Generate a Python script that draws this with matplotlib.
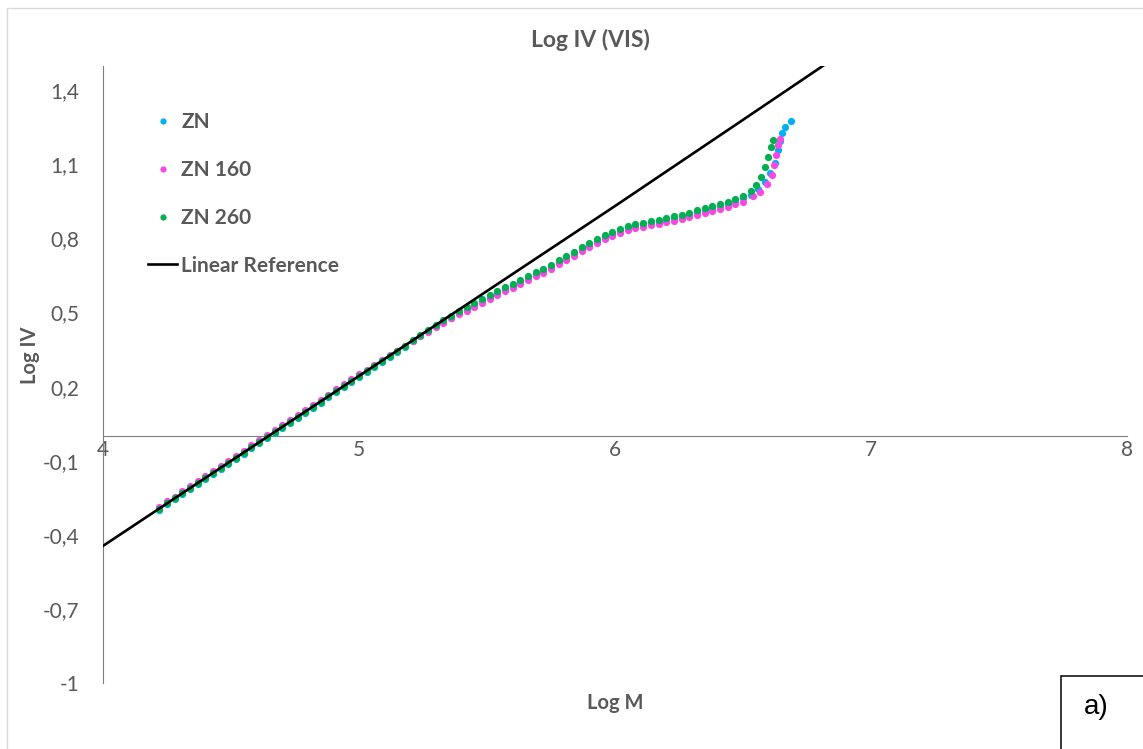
import matplotlib
matplotlib.use("Agg")
import matplotlib.pyplot as plt
from matplotlib.lines import Line2D
from matplotlib.patches import Rectangle

plt.rcParams['font.family'] = ['Lato', 'DejaVu Sans']

# shared Log M positions for the body of the curves
logm = [4.22, 4.25, 4.28, 4.31, 4.34, 4.37, 4.40, 4.43, 4.46, 4.49,
        4.52, 4.55, 4.58, 4.61, 4.64, 4.67, 4.70, 4.73, 4.76, 4.79,
        4.82, 4.85, 4.88, 4.91, 4.94, 4.97, 5.00, 5.03, 5.06, 5.09,
        5.12, 5.15, 5.18, 5.21, 5.24, 5.27, 5.30, 5.33, 5.36, 5.39,
        5.42, 5.45, 5.48, 5.51, 5.54, 5.57, 5.60, 5.63, 5.66, 5.69,
        5.72, 5.75, 5.78, 5.81, 5.84, 5.87, 5.90, 5.93, 5.96, 5.99,
        6.02, 6.05, 6.08, 6.11, 6.14, 6.17, 6.20, 6.23, 6.26, 6.29,
        6.32, 6.35, 6.38, 6.41, 6.44, 6.47, 6.50]

zn_iv = [-0.298, -0.277, -0.257, -0.236, -0.215, -0.195, -0.174, -0.154, -0.133, -0.112,
         -0.092, -0.071, -0.050, -0.030, -0.009, 0.012, 0.032, 0.053, 0.073, 0.094,
         0.115, 0.135, 0.156, 0.177, 0.197, 0.218, 0.239, 0.259, 0.280, 0.300,
         0.321, 0.342, 0.362, 0.383, 0.404, 0.424, 0.445, 0.460, 0.479, 0.497,
         0.514, 0.531, 0.547, 0.563, 0.579, 0.594, 0.609, 0.624, 0.639, 0.654,
         0.669, 0.684, 0.703, 0.720, 0.738, 0.756, 0.773, 0.789, 0.805, 0.819,
         0.831, 0.841, 0.849, 0.856, 0.862, 0.868, 0.874, 0.881, 0.888, 0.896,
         0.905, 0.914, 0.923, 0.932, 0.941, 0.951, 0.962]
zn_tail_m = [6.53, 6.56, 6.585, 6.605, 6.625, 6.637, 6.645, 6.652, 6.664, 6.688]
zn_tail_iv = [0.975, 0.998, 1.030, 1.065, 1.105, 1.158, 1.195, 1.227, 1.251, 1.275]

zn160_iv = [-0.286, -0.265, -0.245, -0.224, -0.203, -0.183, -0.162, -0.142, -0.121, -0.100,
            -0.080, -0.059, -0.038, -0.018, 0.003, 0.024, 0.044, 0.065, 0.085, 0.106,
            0.127, 0.147, 0.168, 0.189, 0.209, 0.230, 0.251, 0.269, 0.289, 0.307,
            0.327, 0.346, 0.364, 0.384, 0.403, 0.422, 0.441, 0.458, 0.476, 0.492,
            0.508, 0.523, 0.539, 0.555, 0.571, 0.586, 0.601, 0.616, 0.631, 0.646,
            0.661, 0.676, 0.695, 0.712, 0.730, 0.748, 0.765, 0.781, 0.797, 0.811,
            0.823, 0.833, 0.841, 0.848, 0.854, 0.860, 0.865, 0.872, 0.878, 0.886,
            0.894, 0.903, 0.911, 0.920, 0.928, 0.938, 0.948]
zn160_tail_m = [6.54, 6.566, 6.594, 6.613, 6.62, 6.63, 6.637, 6.645]
zn160_tail_iv = [0.972, 0.988, 1.020, 1.057, 1.097, 1.138, 1.178, 1.202]

zn260_iv = [-0.294, -0.273, -0.253, -0.232, -0.211, -0.191, -0.170, -0.150, -0.129, -0.108,
            -0.088, -0.067, -0.046, -0.026, -0.005, 0.016, 0.036, 0.057, 0.077, 0.098,
            0.119, 0.139, 0.160, 0.181, 0.201, 0.222, 0.243, 0.263, 0.284, 0.304,
            0.325, 0.346, 0.366, 0.387, 0.408, 0.428, 0.449, 0.468, 0.487, 0.505,
            0.522, 0.539, 0.555, 0.571, 0.587, 0.602, 0.617, 0.632, 0.647, 0.662,
            0.677, 0.692, 0.711, 0.728, 0.746, 0.764, 0.781, 0.797, 0.813, 0.827,
            0.839, 0.849, 0.857, 0.864, 0.870, 0.876, 0.882, 0.889, 0.896, 0.904,
            0.913, 0.922, 0.931, 0.940, 0.949, 0.959, 0.970]
zn260_tail_m = [6.53, 6.55, 6.57, 6.585, 6.598, 6.61, 6.617]
zn260_tail_iv = [0.990, 1.016, 1.049, 1.089, 1.130, 1.170, 1.198]

# linear reference line
ref_m = [4.0, 4.5, 5.0, 5.5, 6.0, 6.5, 7.0]
ref_iv = [-0.445, -0.101, 0.243, 0.587, 0.931, 1.280, 1.630]

x_ticks = [4, 5, 6, 7, 8]
y_ticks = [-1, -0.7, -0.4, -0.1, 0.2, 0.5, 0.8, 1.1, 1.4]
y_tick_labels = ['-1', '-0,7', '-0,4', '-0,1', '0,2', '0,5', '0,8', '1,1', '1,4']

c_zn = '#00b0f0'
c_zn160 = '#f748e6'
c_zn260 = '#00b050'
grey = '#595959'

W, H = 1143, 749
fig = plt.figure(figsize=(W / 100, H / 100), dpi=100)
ax = fig.add_axes([103 / W, 66 / H, 1024 / W, 617.5 / H])

ms = 5.2
ax.plot(logm + zn_tail_m, zn_iv + zn_tail_iv, ls='none', marker='o', ms=ms, mew=0, color=c_zn, zorder=3)
ax.plot(logm + zn160_tail_m, zn160_iv + zn160_tail_iv, ls='none', marker='o', ms=ms, mew=0, color=c_zn160, zorder=4)
ax.plot(logm + zn260_tail_m, zn260_iv + zn260_tail_iv, ls='none', marker='o', ms=ms, mew=0, color=c_zn260, zorder=5)
ax.plot(ref_m, ref_iv, color='black', lw=1.9, zorder=6)

ax.set_xlim(4, 8)
ax.set_ylim(-1, 1.5)
ax.set_xticks(x_ticks)
ax.set_xticklabels([str(t) for t in x_ticks])
ax.set_yticks(y_ticks)
ax.set_yticklabels(y_tick_labels)

for s in ['top', 'right']:
    ax.spines[s].set_visible(False)
ax.spines['bottom'].set_position(('data', 0))
ax.spines['bottom'].set_color('#7f7f7f')
ax.spines['left'].set_color('#7f7f7f')
ax.tick_params(axis='both', length=0, labelsize=15, colors=grey)
ax.tick_params(axis='y', pad=17)
ax.tick_params(axis='x', pad=3)

fig.text(590 / W, 1 - 40 / H, 'Log IV (VIS)', ha='center', va='center',
         fontsize=16.5, fontweight='bold', color=grey)
fig.text(30 / W, 1 - 355 / H, 'Log IV', ha='center', va='center', rotation=90,
         fontsize=14.5, fontweight='bold', color=grey)
fig.text(615 / W, 1 - 703 / H, 'Log M', ha='center', va='center',
         fontsize=14.5, fontweight='bold', color=grey)

handles = [Line2D([], [], ls='none', marker='o', ms=4.5, mew=0, color=c_zn),
           Line2D([], [], ls='none', marker='o', ms=4.5, mew=0, color=c_zn160),
           Line2D([], [], ls='none', marker='o', ms=4.5, mew=0, color=c_zn260),
           Line2D([], [], color='black', lw=1.9)]
leg = ax.legend(handles, ['ZN', 'ZN 160', 'ZN 260', 'Linear Reference'],
                loc='upper left', bbox_to_anchor=(148 / W, 1 - 112 / H),
                bbox_transform=fig.transFigure, frameon=False, borderpad=0,
                borderaxespad=0, handlelength=1.4, handletextpad=0.19,
                labelspacing=1.34, prop={'size': 15, 'weight': 'bold'})
for t in leg.get_texts():
    t.set_color(grey)

# outer chart border and panel tag
fig.patches.append(Rectangle((7 / W, -0.01), 1.1, 1 - 8 / H + 0.01, transform=fig.transFigure,
                             fill=False, edgecolor='#d9d9d9', lw=1))
fig.patches.append(Rectangle((1061 / W, -0.01), 0.2, (H - 676) / H + 0.01, transform=fig.transFigure,
                             fill=False, edgecolor='black', lw=1.1))
fig.text(1096 / W, 1 - 707 / H, 'a)', ha='center', va='center', fontsize=20,
         family='Liberation Sans', color='black')

fig.savefig('out.png', dpi=100)
